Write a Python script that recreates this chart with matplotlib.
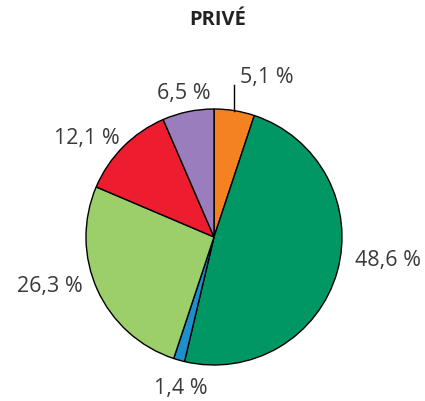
import numpy as np
import matplotlib
matplotlib.use("Agg")
import matplotlib.pyplot as plt

# ── Data ──────────────────────────────────────────────────────────────────────
labels = ["5,1 %", "48,6 %", "1,4 %", "26,3 %", "12,1 %", "6,5 %"]
values = [5.1, 48.6, 1.4, 26.3, 12.1, 6.5]
colors = ["#F58220", "#009764", "#1F8ECD", "#9CCF69", "#ED1C2E", "#9A7DBC"]

# label anchor (centre x, baseline y measured from the top) in pixels
label_pos = [(267, 83), (388, 266), (181, 394), (50, 292), (87, 144), (184, 99)]

W, H = 425, 402
CX, CY, R = 214, H - 238, 128

fig = plt.figure(figsize=(W / 100, H / 100), dpi=100)
ax = fig.add_axes([0, 0, 1, 1])

wedges, _ = ax.pie(values, colors=colors, startangle=90, counterclock=False,
                   center=(CX, CY), radius=R,
                   wedgeprops=dict(edgecolor="black", linewidth=1.0))
ax.set_xlim(0, W)
ax.set_ylim(0, H)
ax.set_aspect("equal")
ax.axis("off")

font = ["Open Sans", "DejaVu Sans"]
for lab, (x, y) in zip(labels, label_pos):
    ax.text(x, H - y, lab, ha="center", va="baseline", fontsize=15.5,
            color="#3a3a3a", family=font)

# leader line for the small orange slice
w = wedges[0]
mid = np.deg2rad((w.theta1 + w.theta2) / 2)
lx = CX + R * np.cos(mid)
ly = CY + R * np.sin(mid)
ax.plot([lx, lx], [ly, H - 86], color="black", linewidth=1.0)

ax.text(218, H - 25, "PRIVÉ", ha="center", va="baseline", fontsize=14.5,
        fontweight="bold", color="#222222", family=font)

fig.savefig("out.png", dpi=100)
